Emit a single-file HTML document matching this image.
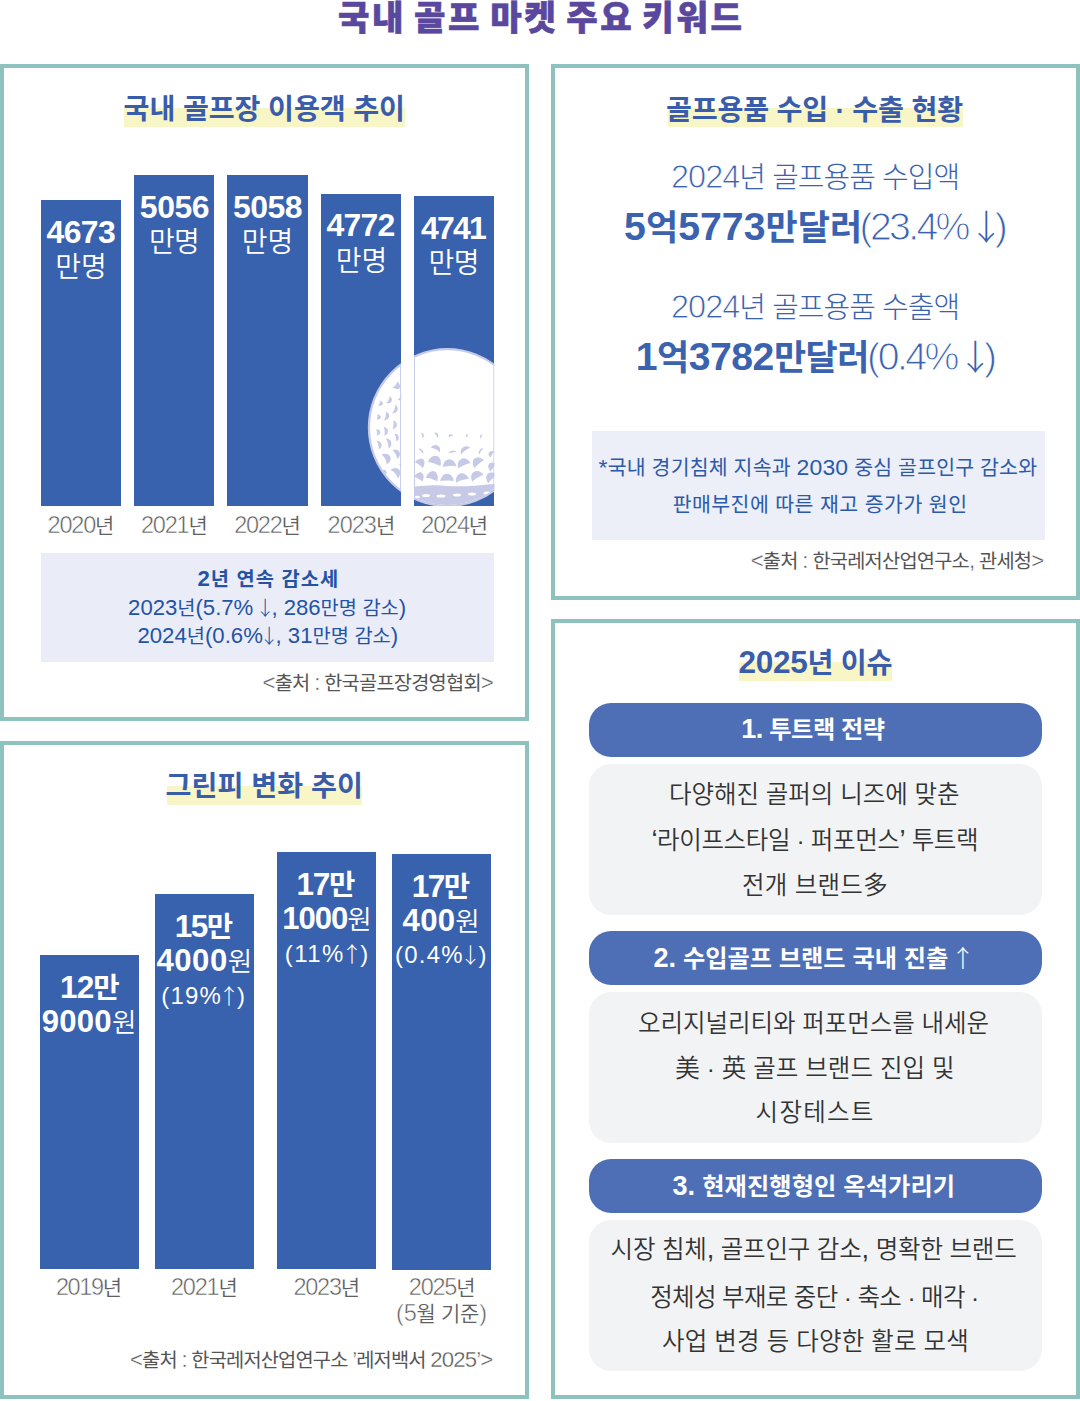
<!DOCTYPE html><html lang="ko"><head><meta charset="utf-8"><title>국내 골프 마켓 주요 키워드</title><style>
*{margin:0;padding:0}
html,body{width:1080px;height:1401px;background:#fff;overflow:hidden}
body{position:relative;font-family:"Liberation Sans","Noto Sans CJK KR",sans-serif}
.t{position:absolute;white-space:nowrap;line-height:1.2}
.t b{font-weight:700}
.l{font-weight:350}
#title{-webkit-text-stroke:0.6px #5a479e;word-spacing:-4px}
.d{font-size:1.12em}
.dna .d{font-size:1.1em}
.dnb .d{font-size:1.17em}
.ar{font-family:"Noto Sans CJK KR",sans-serif;font-weight:300;margin:0 -0.18em}
#ty0 .d{-webkit-text-stroke:0.5px #fff}
#ty1 .d{-webkit-text-stroke:0.5px #fff}
#ty2 .d{-webkit-text-stroke:0.5px #fff}
#ty3 .d{-webkit-text-stroke:0.5px #fff}
#ty4 .d{-webkit-text-stroke:0.5px #fff}
#srctl .d{-webkit-text-stroke:0.35px #fff}
#r1 .d{-webkit-text-stroke:0.8px #fff}
#r2b .d{-webkit-text-stroke:1.0px #fff}
#r3 .d{-webkit-text-stroke:0.8px #fff}
#r4b .d{-webkit-text-stroke:1.0px #fff}
#srctr .d{-webkit-text-stroke:0.35px #fff}
#by0 .d{-webkit-text-stroke:0.5px #fff}
#by1 .d{-webkit-text-stroke:0.5px #fff}
#by2 .d{-webkit-text-stroke:0.5px #fff}
#by3 .d{-webkit-text-stroke:0.5px #fff}
#by5 .d{-webkit-text-stroke:0.5px #fff}
#srcbl .d{-webkit-text-stroke:0.35px #fff}
</style></head><body>
<div style="position:absolute;left:0px;top:64px;width:529px;height:657px;border:4px solid #8dc2be;box-sizing:border-box"></div>
<div style="position:absolute;left:0px;top:741px;width:529px;height:658px;border:4px solid #8dc2be;box-sizing:border-box"></div>
<div style="position:absolute;left:551px;top:64px;width:529px;height:536px;border:4px solid #8dc2be;box-sizing:border-box"></div>
<div style="position:absolute;left:551px;top:619px;width:529px;height:780px;border:4px solid #8dc2be;box-sizing:border-box"></div>
<div style="position:absolute;left:123.9px;top:108px;width:280.9px;height:18.7px;background:#f8f5c6"></div>
<div style="position:absolute;left:668px;top:108.4px;width:294.6px;height:18.5px;background:#f8f5c6"></div>
<div style="position:absolute;left:738.7px;top:662px;width:153.2px;height:18.9px;background:#f8f5c6"></div>
<div style="position:absolute;left:166.9px;top:786.1px;width:195.1px;height:18.9px;background:#f8f5c6"></div>
<div style="position:absolute;left:40.7px;top:200px;width:80.4px;height:306.1px;background:#3861ae"></div>
<div style="position:absolute;left:134.1px;top:175px;width:80.4px;height:331.1px;background:#3861ae"></div>
<div style="position:absolute;left:227.3px;top:175px;width:80.4px;height:331.1px;background:#3861ae"></div>
<div style="position:absolute;left:320.8px;top:193.7px;width:80.4px;height:312.4px;background:#3861ae"></div>
<div style="position:absolute;left:414.0px;top:195.8px;width:80.4px;height:310.3px;background:#3861ae"></div>
<div style="position:absolute;left:39.5px;top:955.1px;width:99.4px;height:314.4px;background:#3861ae"></div>
<div style="position:absolute;left:154.5px;top:893.8px;width:99.4px;height:375.7px;background:#3861ae"></div>
<div style="position:absolute;left:276.9px;top:852.2px;width:99.4px;height:417.3px;background:#3861ae"></div>
<div style="position:absolute;left:391.8px;top:854.0px;width:99.4px;height:415.5px;background:#3861ae"></div>
<div style="position:absolute;left:40.7px;top:552.6px;width:453.6px;height:109.2px;background:#eaedf8"></div>
<div style="position:absolute;left:591.7px;top:430.8px;width:453.0px;height:109.1px;background:#eceef8"></div>
<div style="position:absolute;left:588.5px;top:703px;width:453.5px;height:54px;background:#4e6fb6;border-radius:22px"></div>
<div style="position:absolute;left:588.5px;top:764px;width:453.5px;height:150.7px;background:#f2f3f4;border-radius:22px"></div>
<div style="position:absolute;left:588.5px;top:931px;width:453.5px;height:54px;background:#4e6fb6;border-radius:22px"></div>
<div style="position:absolute;left:588.5px;top:992px;width:453.5px;height:151px;background:#f2f3f4;border-radius:22px"></div>
<div style="position:absolute;left:588.5px;top:1159px;width:453.5px;height:54px;background:#4e6fb6;border-radius:22px"></div>
<div style="position:absolute;left:588.5px;top:1220px;width:453.5px;height:150.5px;background:#f2f3f4;border-radius:22px"></div>
<svg style="position:absolute;left:0;top:0" width="1080" height="1401" viewBox="0 0 1080 1401">
<defs><clipPath id="bc"><rect x="320.8" y="300" width="80.4" height="206.1"/><rect x="414" y="300" width="80.4" height="206.1"/></clipPath>
<clipPath id="bi"><circle cx="447.3" cy="427.6" r="77.4"/></clipPath></defs>
<g clip-path="url(#bc)">
<circle cx="447.3" cy="427.6" r="78.4" fill="#fff" stroke="#c6cae7" stroke-width="2.2"/>
<g clip-path="url(#bi)">
<path d="M 405 488 Q 430 484 447 486 Q 470 487 500 483 L 500 520 L 405 520 Z" fill="#c6cae7"/>
<ellipse cx="426" cy="495.5" rx="4" ry="1.5" fill="#fff"/>
<ellipse cx="441" cy="496" rx="4.5" ry="1.5" fill="#fff"/>
<ellipse cx="457" cy="495" rx="4" ry="1.5" fill="#fff"/>
<ellipse cx="472" cy="494" rx="4" ry="1.5" fill="#fff"/>
<ellipse cx="487" cy="493" rx="3.5" ry="1.5" fill="#fff"/>
<ellipse cx="417" cy="497" rx="3" ry="1.25" fill="#fff"/>
<path d="M -3.75 0 A 3.75 6.75 0 0 1 3.75 0 A 3.75 1.69 0 0 0 -3.75 0 Z" transform="translate(394.4 383.9) rotate(129.6)" fill="#c6cae7"/>
<path d="M -3.75 0 A 3.75 3.0 0 0 1 3.75 0 A 3.75 0.75 0 0 0 -3.75 0 Z" transform="translate(399.6 396.5) rotate(123.1)" fill="#c6cae7"/>
<path d="M -3.75 0 A 3.75 4.5 0 0 1 3.75 0 A 3.75 1.12 0 0 0 -3.75 0 Z" transform="translate(387.6 399.4) rotate(115.3)" fill="#c6cae7"/>
<path d="M -2.5 0 A 2.5 4.5 0 0 1 2.5 0 A 2.5 1.12 0 0 0 -2.5 0 Z" transform="translate(378.6 402.8) rotate(109.8)" fill="#c6cae7"/>
<path d="M -4.38 0 A 4.38 4.5 0 0 1 4.38 0 A 4.38 1.12 0 0 0 -4.38 0 Z" transform="translate(393.3 408.8) rotate(109.2)" fill="#c6cae7"/>
<path d="M -4.38 0 A 4.38 4.5 0 0 1 4.38 0 A 4.38 1.12 0 0 0 -4.38 0 Z" transform="translate(384.6 415.8) rotate(100.7)" fill="#c6cae7"/>
<path d="M -2.5 0 A 2.5 4.5 0 0 1 2.5 0 A 2.5 1.12 0 0 0 -2.5 0 Z" transform="translate(376.4 416.8) rotate(98.7)" fill="#c6cae7"/>
<path d="M -4.38 0 A 4.38 4.5 0 0 1 4.38 0 A 4.38 1.12 0 0 0 -4.38 0 Z" transform="translate(392.4 424.8) rotate(92.9)" fill="#c6cae7"/>
<path d="M -4.38 0 A 4.38 4.5 0 0 1 4.38 0 A 4.38 1.12 0 0 0 -4.38 0 Z" transform="translate(383.5 431.4) rotate(86.6)" fill="#c6cae7"/>
<path d="M -3.12 0 A 3.12 4.5 0 0 1 3.12 0 A 3.12 1.12 0 0 0 -3.12 0 Z" transform="translate(375.8 432.4) rotate(86.2)" fill="#c6cae7"/>
<path d="M -3.75 0 A 3.75 3.75 0 0 1 3.75 0 A 3.75 0.94 0 0 0 -3.75 0 Z" transform="translate(395 437.6) rotate(79.2)" fill="#c6cae7"/>
<path d="M -5.0 0 A 5.0 4.5 0 0 1 5.0 0 A 5.0 1.12 0 0 0 -5.0 0 Z" transform="translate(386.8 443.6) rotate(75.2)" fill="#c6cae7"/>
<path d="M -4.38 0 A 4.38 4.5 0 0 1 4.38 0 A 4.38 1.12 0 0 0 -4.38 0 Z" transform="translate(377.2 445.2) rotate(75.9)" fill="#c6cae7"/>
<path d="M -5.0 0 A 5.0 6.0 0 0 1 5.0 0 A 5.0 1.5 0 0 0 -5.0 0 Z" transform="translate(394.2 454.8) rotate(62.9)" fill="#c6cae7"/>
<path d="M -5.62 0 A 5.62 7.5 0 0 1 5.62 0 A 5.62 1.88 0 0 0 -5.62 0 Z" transform="translate(383.6 459.8) rotate(63.2)" fill="#c6cae7"/>
<path d="M -2.5 0 A 2.5 6.0 0 0 1 2.5 0 A 2.5 1.5 0 0 0 -2.5 0 Z" transform="translate(400 467) rotate(50.2)" fill="#c6cae7"/>
<path d="M -5.62 0 A 5.62 7.5 0 0 1 5.62 0 A 5.62 1.88 0 0 0 -5.62 0 Z" transform="translate(393.6 474.6) rotate(48.8)" fill="#c6cae7"/>
<path d="M -3.12 0 A 3.12 4.5 0 0 1 3.12 0 A 3.12 1.12 0 0 0 -3.12 0 Z" transform="translate(382.5 473.5) rotate(54.7)" fill="#c6cae7"/>
<path d="M -3.75 0 A 3.75 4.5 0 0 1 3.75 0 A 3.75 1.12 0 0 0 -3.75 0 Z" transform="translate(386.5 486.5) rotate(45.9)" fill="#c6cae7"/>
<path d="M -2.75 0 A 2.75 2.3 0 0 1 2.75 0 A 2.75 0.57 0 0 0 -2.75 0 Z" transform="translate(421.5 435.5) rotate(73.0)" fill="#c6cae7"/>
<path d="M -2.75 0 A 2.75 2.88 0 0 1 2.75 0 A 2.75 0.72 0 0 0 -2.75 0 Z" transform="translate(435.5 435.5) rotate(56.2)" fill="#c6cae7"/>
<path d="M -2.2 0 A 2.2 2.88 0 0 1 2.2 0 A 2.2 0.72 0 0 0 -2.2 0 Z" transform="translate(451 437) rotate(-21.5)" fill="#c6cae7"/>
<path d="M -1.65 0 A 1.65 2.3 0 0 1 1.65 0 A 1.65 0.57 0 0 0 -1.65 0 Z" transform="translate(468 436) rotate(-67.9)" fill="#c6cae7"/>
<path d="M -2.2 0 A 2.2 2.07 0 0 1 2.2 0 A 2.2 0.52 0 0 0 -2.2 0 Z" transform="translate(482 436.5) rotate(-75.6)" fill="#c6cae7"/>
<path d="M -3.3 0 A 3.3 2.3 0 0 1 3.3 0 A 3.3 0.57 0 0 0 -3.3 0 Z" transform="translate(420.5 451.5) rotate(48.3)" fill="#c6cae7"/>
<path d="M -4.95 0 A 4.95 5.75 0 0 1 4.95 0 A 4.95 1.44 0 0 0 -4.95 0 Z" transform="translate(435 450.5) rotate(28.2)" fill="#c6cae7"/>
<path d="M -3.85 0 A 3.85 2.3 0 0 1 3.85 0 A 3.85 0.57 0 0 0 -3.85 0 Z" transform="translate(452.5 453) rotate(-11.6)" fill="#c6cae7"/>
<path d="M -5.5 0 A 5.5 5.17 0 0 1 5.5 0 A 5.5 1.29 0 0 0 -5.5 0 Z" transform="translate(466 451.5) rotate(-38.0)" fill="#c6cae7"/>
<path d="M -3.3 0 A 3.3 2.3 0 0 1 3.3 0 A 3.3 0.57 0 0 0 -3.3 0 Z" transform="translate(481.5 451.5) rotate(-55.1)" fill="#c6cae7"/>
<path d="M -3.3 0 A 3.3 4.6 0 0 1 3.3 0 A 3.3 1.15 0 0 0 -3.3 0 Z" transform="translate(493 455) rotate(-59.1)" fill="#c6cae7"/>
<path d="M -4.8 0 A 4.8 7.8 0 0 1 4.8 0 A 4.8 0.94 0 0 0 -4.8 0 Z" transform="translate(418.5 465.5) rotate(37.2)" fill="#c6cae7"/>
<path d="M -6.6 0 A 6.6 9.1 0 0 1 6.6 0 A 6.6 1.09 0 0 0 -6.6 0 Z" transform="translate(434 464.5) rotate(19.8)" fill="#c6cae7"/>
<path d="M -6.6 0 A 6.6 7.8 0 0 1 6.6 0 A 6.6 0.94 0 0 0 -6.6 0 Z" transform="translate(449.5 467) rotate(-3.2)" fill="#c6cae7"/>
<path d="M -6.6 0 A 6.6 7.8 0 0 1 6.6 0 A 6.6 0.94 0 0 0 -6.6 0 Z" transform="translate(464.5 466) rotate(-24.1)" fill="#c6cae7"/>
<path d="M -6.0 0 A 6.0 7.8 0 0 1 6.0 0 A 6.0 0.94 0 0 0 -6.0 0 Z" transform="translate(479.5 464.5) rotate(-41.1)" fill="#c6cae7"/>
<path d="M -4.8 0 A 4.8 6.5 0 0 1 4.8 0 A 4.8 0.78 0 0 0 -4.8 0 Z" transform="translate(494 468) rotate(-49.1)" fill="#c6cae7"/>
<path d="M -4.8 0 A 4.8 7.8 0 0 1 4.8 0 A 4.8 0.94 0 0 0 -4.8 0 Z" transform="translate(418 479.5) rotate(29.4)" fill="#c6cae7"/>
<path d="M -6.0 0 A 6.0 9.1 0 0 1 6.0 0 A 6.0 1.09 0 0 0 -6.0 0 Z" transform="translate(431.5 480) rotate(16.8)" fill="#c6cae7"/>
<path d="M -6.6 0 A 6.6 7.8 0 0 1 6.6 0 A 6.6 0.94 0 0 0 -6.6 0 Z" transform="translate(447 481.5) rotate(0.3)" fill="#c6cae7"/>
<path d="M -6.6 0 A 6.6 7.8 0 0 1 6.6 0 A 6.6 0.94 0 0 0 -6.6 0 Z" transform="translate(462.5 481) rotate(-15.9)" fill="#c6cae7"/>
<path d="M -6.6 0 A 6.6 7.8 0 0 1 6.6 0 A 6.6 0.94 0 0 0 -6.6 0 Z" transform="translate(478 478.5) rotate(-31.1)" fill="#c6cae7"/>
<path d="M -6.0 0 A 6.0 7.8 0 0 1 6.0 0 A 6.0 0.94 0 0 0 -6.0 0 Z" transform="translate(493 479.5) rotate(-41.4)" fill="#c6cae7"/>
<rect x="400.1" y="340" width="1" height="170" fill="#c6cae7"/>
<rect x="414.0" y="340" width="1" height="170" fill="#c6cae7"/>
<rect x="493.4" y="340" width="1" height="170" fill="#c6cae7"/>
</g></g></svg>
<div class="t" id="title" style="left:337.92px;top:-1.53px;font-size:34.20px;font-weight:900;color:#5a479e;letter-spacing:2.57px">국내 골프 마켓 주요 키워드</div>
<div class="t" id="htl" style="left:123.62px;top:93.35px;font-size:28.20px;font-weight:700;color:#3a5dab;letter-spacing:-0.12px">국내 골프장 이용객 추이</div>
<div class="t" id="tn0" style="left:46.42px;top:213.26px;font-size:28.56px;font-weight:700;color:#fff;letter-spacing:-0.55px"><span class="d">4673</span></div>
<div class="t" id="tu0" style="left:55.19px;top:251.29px;font-size:28.00px;font-weight:350;color:#fff;letter-spacing:-0.06px">만명</div>
<div class="t" id="tn1" style="left:139.86px;top:188.26px;font-size:28.56px;font-weight:700;color:#fff;letter-spacing:-0.51px"><span class="d">5056</span></div>
<div class="t" id="tu1" style="left:149.12px;top:226.29px;font-size:28.00px;font-weight:350;color:#fff;letter-spacing:-0.80px">만명</div>
<div class="t" id="tn2" style="left:233.02px;top:188.26px;font-size:28.56px;font-weight:700;color:#fff;letter-spacing:-0.51px"><span class="d">5058</span></div>
<div class="t" id="tu2" style="left:241.81px;top:226.29px;font-size:28.00px;font-weight:350;color:#fff">만명</div>
<div class="t" id="tn3" style="left:326.54px;top:206.48px;font-size:28.56px;font-weight:700;color:#fff;letter-spacing:-0.79px"><span class="d">4772</span></div>
<div class="t" id="tu3" style="left:335.80px;top:245.47px;font-size:28.00px;font-weight:350;color:#fff;letter-spacing:-0.03px">만명</div>
<div class="t" id="tn4" style="left:420.90px;top:209.07px;font-size:28.56px;font-weight:700;color:#fff;letter-spacing:-1.78px"><span class="d">4741</span></div>
<div class="t" id="tu4" style="left:428.60px;top:247.10px;font-size:28.00px;font-weight:350;color:#fff;letter-spacing:-0.72px">만명</div>
<div class="t" id="ty0" style="left:47.57px;top:510.59px;font-size:21.00px;font-weight:350;color:#606060;letter-spacing:-1.22px"><span class="d">2020</span>년</div>
<div class="t" id="ty1" style="left:140.89px;top:510.59px;font-size:21.00px;font-weight:350;color:#606060;letter-spacing:-1.17px"><span class="d">2021</span>년</div>
<div class="t" id="ty2" style="left:234.14px;top:510.59px;font-size:21.00px;font-weight:350;color:#606060;letter-spacing:-1.21px"><span class="d">2022</span>년</div>
<div class="t" id="ty3" style="left:327.62px;top:510.59px;font-size:21.00px;font-weight:350;color:#606060;letter-spacing:-0.99px"><span class="d">2023</span>년</div>
<div class="t" id="ty4" style="left:421.32px;top:510.59px;font-size:21.00px;font-weight:350;color:#606060;letter-spacing:-1.21px"><span class="d">2024</span>년</div>
<div class="t" id="s1" style="left:197.49px;top:566.35px;font-size:19.80px;font-weight:700;color:#2453a5;letter-spacing:1.01px"><span class="d">2</span>년 연속 감소세</div>
<div class="t" id="s2" style="left:128.12px;top:595.25px;font-size:19.80px;font-weight:400;color:#2453a5;letter-spacing:-0.02px"><span class="d">2023</span>년<span class="d">(5.7%</span> <span class="ar">↓</span><span class="d">, 286</span>만명 감소<span class="d">)</span></div>
<div class="t" id="s3" style="left:137.47px;top:623.41px;font-size:19.80px;font-weight:400;color:#2453a5"><span class="d">2024</span>년<span class="d">(0.6%</span><span class="ar">↓</span><span class="d">, 31</span>만명 감소<span class="d">)</span></div>
<div class="t" id="srctl" style="left:262.50px;top:669.90px;font-size:19.80px;font-weight:400;color:#555555;letter-spacing:-0.80px"><span class="d">&lt;</span>출처 <span class="d">:</span> 한국골프장경영협회<span class="d">&gt;</span></div>
<div class="t" id="htr" style="left:665.98px;top:93.70px;font-size:28.20px;font-weight:700;color:#3a5dab;letter-spacing:-0.21px">골프용품 수입 · 수출 현황</div>
<div class="t" id="r1" style="left:671.05px;top:158.09px;font-size:29.00px;font-weight:300;color:#3a62ae;letter-spacing:-0.98px"><span class="d">2024</span>년 골프용품 수입액</div>
<div class="t" id="r2a" style="left:624.12px;top:202.80px;font-size:35.00px;font-weight:700;color:#3a62ae;letter-spacing:0.04px"><span class="d">5</span>억<span class="d">5773</span>만달러</div>
<div class="t" id="r2b" style="left:859.50px;top:203.40px;font-size:35.00px;font-weight:300;color:#3a62ae;letter-spacing:-2.64px"><span class="d">(23.4%</span> <span class="ar">↓</span><span class="d">)</span></div>
<div class="t" id="r3" style="left:671.05px;top:288.09px;font-size:29.00px;font-weight:300;color:#3a62ae;letter-spacing:-0.98px"><span class="d">2024</span>년 골프용품 수출액</div>
<div class="t" id="r4a" style="left:635.76px;top:332.80px;font-size:35.00px;font-weight:700;color:#3a62ae;letter-spacing:-0.51px"><span class="d">1</span>억<span class="d">3782</span>만달러</div>
<div class="t" id="r4b" style="left:867.10px;top:333.20px;font-size:35.00px;font-weight:300;color:#3a62ae;letter-spacing:-2.51px"><span class="d">(0.4%</span> <span class="ar">↓</span><span class="d">)</span></div>
<div class="t" id="n1" style="left:598.59px;top:454.09px;font-size:20.50px;font-weight:400;color:#2b5aaa;letter-spacing:0.17px"><span class="d">*</span>국내 경기침체 지속과 <span class="d">2030</span> 중심 골프인구 감소와</div>
<div class="t" id="n2" style="left:672.69px;top:492.51px;font-size:20.50px;font-weight:400;color:#2b5aaa;letter-spacing:0.44px">판매부진에 따른 재고 증가가 원인</div>
<div class="t" id="srctr" style="left:750.70px;top:548.01px;font-size:19.80px;font-weight:400;color:#555555;letter-spacing:-0.80px"><span class="d">&lt;</span>출처 <span class="d">:</span> 한국레저산업연구소<span class="d">,</span> 관세청<span class="d">&gt;</span></div>
<div class="t" id="hbr" style="left:738.47px;top:643.69px;font-size:28.20px;font-weight:700;color:#3a5dab;letter-spacing:-0.29px"><span class="d">2025</span>년 이슈</div>
<div class="t" id="p1" style="left:741.16px;top:713.45px;font-size:24.20px;font-weight:700;color:#fff;letter-spacing:-0.42px"><span class="d">1.</span> 투트랙 전략</div>
<div class="t" id="p2" style="left:653.52px;top:942.43px;font-size:24.20px;font-weight:700;color:#fff;letter-spacing:0.03px"><span class="d">2.</span> 수입골프 브랜드 국내 진출 <span class="ar">↑</span></div>
<div class="t" id="p3" style="left:672.43px;top:1169.52px;font-size:24.20px;font-weight:700;color:#fff;letter-spacing:0.13px"><span class="d">3.</span> 현재진행형인 옥석가리기</div>
<div class="t" id="g1a" style="left:668.90px;top:779.91px;font-size:24.50px;font-weight:350;color:#333333;letter-spacing:-0.01px">다양해진 골퍼의 니즈에 맞춘</div>
<div class="t" id="g1b" style="left:651.38px;top:823.86px;font-size:24.50px;font-weight:350;color:#333333;letter-spacing:-0.37px"><span class="d">‘</span>라이프스타일 · 퍼포먼스<span class="d">’</span> 투트랙</div>
<div class="t" id="g1c" style="left:742.06px;top:871.08px;font-size:24.50px;font-weight:350;color:#333333;letter-spacing:0.27px">전개 브랜드多</div>
<div class="t" id="g2a" style="left:637.93px;top:1008.55px;font-size:24.50px;font-weight:350;color:#333333;letter-spacing:-0.04px">오리지널리티와 퍼포먼스를 내세운</div>
<div class="t" id="g2b" style="left:675.25px;top:1054.48px;font-size:24.50px;font-weight:350;color:#333333;letter-spacing:0.06px">美 · 英 골프 브랜드 진입 및</div>
<div class="t" id="g2c" style="left:755.62px;top:1098.13px;font-size:24.50px;font-weight:350;color:#333333;letter-spacing:1.25px">시장테스트</div>
<div class="t" id="g3a" style="left:610.52px;top:1233.42px;font-size:24.50px;font-weight:350;color:#333333;letter-spacing:-0.17px">시장 침체<span class="d">,</span> 골프인구 감소<span class="d">,</span> 명확한 브랜드</div>
<div class="t" id="g3b" style="left:650.22px;top:1282.63px;font-size:24.50px;font-weight:350;color:#333333;letter-spacing:-0.65px">정체성 부재로 중단 · 축소 · 매각 ·</div>
<div class="t" id="g3c" style="left:662.07px;top:1326.90px;font-size:24.50px;font-weight:350;color:#333333;letter-spacing:0.14px">사업 변경 등 다양한 활로 모색</div>
<div class="t" id="hbl" style="left:165.49px;top:770.47px;font-size:28.20px;font-weight:700;color:#3a5dab;letter-spacing:0.04px">그린피 변화 추이</div>
<div class="t dna" id="b1a" style="left:60.01px;top:969.25px;font-size:28.70px;font-weight:700;color:#fff;letter-spacing:-0.90px"><span class="d">12</span>만</div>
<div class="t dnb" id="b1b" style="left:41.86px;top:1002.77px;font-size:26.60px;font-weight:700;color:#fff;letter-spacing:0.20px"><span class="d">9000</span><span class=l>원</span></div>
<div class="t dna" id="b2a" style="left:174.69px;top:907.51px;font-size:28.70px;font-weight:700;color:#fff;letter-spacing:-1.48px"><span class="d">15</span>만</div>
<div class="t dnb" id="b2b" style="left:156.41px;top:941.53px;font-size:26.60px;font-weight:700;color:#fff;letter-spacing:0.54px"><span class="d">4000</span><span class=l>원</span></div>
<div class="t" id="b2c" style="left:161.22px;top:982.33px;font-size:21.40px;font-weight:300;color:#fff;letter-spacing:1.25px"><span class="d">(19%</span><span class="ar">↑</span><span class="d">)</span></div>
<div class="t dna" id="b3a" style="left:296.47px;top:866.39px;font-size:28.70px;font-weight:700;color:#fff;letter-spacing:-1.30px"><span class="d">17</span>만</div>
<div class="t dnb" id="b3b" style="left:282.23px;top:900.30px;font-size:26.60px;font-weight:700;color:#fff;letter-spacing:-1.04px"><span class="d">1000</span><span class=l>원</span></div>
<div class="t" id="b3c" style="left:284.67px;top:939.56px;font-size:21.40px;font-weight:300;color:#fff;letter-spacing:1.54px"><span class="d">(11%</span><span class="ar">↑</span><span class="d">)</span></div>
<div class="t dna" id="b4a" style="left:411.79px;top:868.12px;font-size:28.70px;font-weight:700;color:#fff;letter-spacing:-1.61px"><span class="d">17</span>만</div>
<div class="t dnb" id="b4b" style="left:402.59px;top:902.10px;font-size:26.60px;font-weight:700;color:#fff;letter-spacing:0.28px"><span class="d">400</span><span class=l>원</span></div>
<div class="t" id="b4c" style="left:395.10px;top:940.80px;font-size:21.40px;font-weight:300;color:#fff;letter-spacing:1.20px"><span class="d">(0.4%</span><span class="ar">↓</span><span class="d">)</span></div>
<div class="t" id="by0" style="left:55.93px;top:1272.75px;font-size:21.00px;font-weight:350;color:#606060;letter-spacing:-1.40px"><span class="d">2019</span>년</div>
<div class="t" id="by1" style="left:171.00px;top:1272.75px;font-size:21.00px;font-weight:350;color:#606060;letter-spacing:-1.21px"><span class="d">2021</span>년</div>
<div class="t" id="by2" style="left:293.44px;top:1272.75px;font-size:21.00px;font-weight:350;color:#606060;letter-spacing:-1.26px"><span class="d">2023</span>년</div>
<div class="t" id="by3" style="left:408.87px;top:1272.75px;font-size:21.00px;font-weight:350;color:#606060;letter-spacing:-1.24px"><span class="d">2025</span>년</div>
<div class="t" id="by5" style="left:396.10px;top:1299.18px;font-size:21.00px;font-weight:350;color:#606060;letter-spacing:-0.28px"><span class="d">(5</span>월 기준<span class="d">)</span></div>
<div class="t" id="srcbl" style="left:129.96px;top:1347.41px;font-size:19.80px;font-weight:400;color:#555555;letter-spacing:-0.85px"><span class="d">&lt;</span>출처 <span class="d">:</span> 한국레저산업연구소 <span class="d">’</span>레저백서 <span class="d">2025’&gt;</span></div>
</body></html>
